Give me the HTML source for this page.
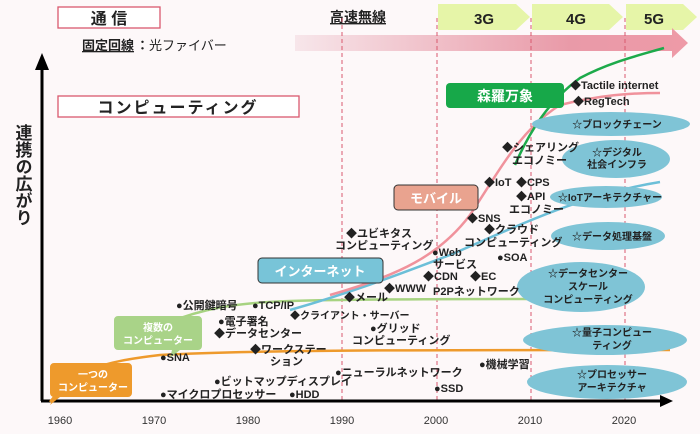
<!DOCTYPE html>
<html><head><meta charset="utf-8"><style>
body{margin:0;background:#fdf8f9;}
svg{display:block;font-family:"Liberation Sans","Noto Sans CJK JP",sans-serif;}
.t{font-size:11px;font-weight:bold;fill:#222;}
.s{font-size:10px;font-weight:bold;fill:#222;}
.w{fill:#fff;font-weight:bold;}
</style></head><body>
<svg width="700" height="434" viewBox="0 0 700 434">
<defs>
<linearGradient id="pg" x1="0" x2="1"><stop offset="0" stop-color="#f7e6ea"/><stop offset="0.7" stop-color="#e99aa8"/><stop offset="1" stop-color="#ee9aa7"/></linearGradient>
</defs>
<rect width="700" height="434" fill="#fdf8f9"/>
<polygon points="438,4 516,4 530,17 516,30 438,30" fill="#e6f5a8"/>
<polygon points="532,4 609,4 623,17 609,30 532,30" fill="#e6f5a8"/>
<polygon points="626,4 683,4 697,17 683,30 626,30" fill="#e6f5a8"/>
<text x="484" y="24" font-size="15" font-weight="bold" text-anchor="middle" fill="#222">3G</text>
<text x="576" y="24" font-size="15" font-weight="bold" text-anchor="middle" fill="#222">4G</text>
<text x="654" y="24" font-size="15" font-weight="bold" text-anchor="middle" fill="#222">5G</text>
<polygon points="295,35 672,35 672,28 688,43 672,58 672,51 295,51" fill="url(#pg)"/>
<rect x="58" y="7" width="102" height="21" fill="#fff" stroke="#d9596e" stroke-width="1.3"/>
<text x="109" y="24" font-size="16" font-weight="bold" text-anchor="middle" fill="#222">通 信</text>
<text x="82" y="50" font-size="13" font-weight="bold" fill="#222" text-decoration="underline">固定回線</text>
<text x="136" y="50" font-size="13" fill="#222"><tspan font-weight="bold">：</tspan>光ファイバー</text>
<text x="330" y="22" font-size="14" font-weight="bold" fill="#222" text-decoration="underline">高速無線</text>
<rect x="58" y="96" width="241" height="21" fill="#fff" stroke="#d9596e" stroke-width="1.3"/>
<text x="178" y="113" font-size="16" font-weight="bold" text-anchor="middle" fill="#222" letter-spacing="2">コンピューティング</text>
<g stroke="#d9596e" stroke-dasharray="4,3" stroke-width="1">
<line x1="342" y1="18" x2="342" y2="400"/><line x1="437" y1="18" x2="437" y2="400"/><line x1="531" y1="18" x2="531" y2="400"/><line x1="625" y1="18" x2="625" y2="400"/>
</g>
<line x1="42" y1="68" x2="42" y2="401" stroke="#000" stroke-width="3"/>
<polygon points="35,70 42,53 49,70" fill="#000"/>
<line x1="41" y1="401" x2="662" y2="401" stroke="#000" stroke-width="3"/>
<polygon points="660,395 673,401 660,407" fill="#000"/>
<text x="22" y="175" font-size="17" font-weight="bold" fill="#222" text-anchor="middle" writing-mode="tb">連携の広がり</text>
<g font-size="11" fill="#333" text-anchor="middle">
<text x="60" y="424">1960</text><text x="154" y="424">1970</text><text x="248" y="424">1980</text><text x="342" y="424">1990</text><text x="436" y="424">2000</text><text x="530" y="424">2010</text><text x="624" y="424">2020</text></g>
<g fill="none" stroke-width="2.5">
<path d="M50,402 C75,370 100,362 160,355 C250,350 400,350 670,350" stroke="#ee9a2c"/>
<path d="M170,322 C200,310 230,303 290,301 C360,299 450,299 530,299" stroke="#a7d381"/>
<path d="M290,310 C360,290 410,270 450,255 C520,225 580,195 660,182" stroke="#6cbfd8"/>
<path d="M330,295 C400,275 440,255 470,215 C500,170 520,130 560,105 C600,95 630,93 660,93" stroke="#f0929c"/>
<path d="M515,165 C530,130 550,100 580,78 C610,62 640,55 664,48" stroke="#1daa4b"/>
</g>
<g fill="#7fc4d6">
<ellipse cx="611" cy="124" rx="79" ry="12"/>
<ellipse cx="616" cy="159" rx="54" ry="19"/>
<ellipse cx="606" cy="197" rx="56" ry="11"/>
<ellipse cx="608" cy="236" rx="57" ry="14"/>
<ellipse cx="581" cy="287" rx="64" ry="25"/>
<ellipse cx="605" cy="340" rx="82" ry="15"/>
<ellipse cx="607" cy="382" rx="80" ry="17"/>
</g>
<g class="s" text-anchor="middle">
<text x="617" y="128">☆ブロックチェーン</text>
<text x="617" y="156">☆デジタル</text><text x="617" y="168">社会インフラ</text>
<text x="610" y="201">☆IoTアーキテクチャー</text>
<text x="612" y="240">☆データ処理基盤</text>
<text x="588" y="277">☆データセンター</text><text x="588" y="290">スケール</text><text x="588" y="303">コンピューティング</text>
<text x="612" y="336">☆量子コンピュー</text><text x="612" y="349">ティング</text>
<text x="612" y="378">☆プロセッサー</text><text x="612" y="391">アーキテクチャ</text>
</g>
<rect x="446" y="83" width="118" height="25" rx="4" fill="#17a849"/>
<text x="505" y="101" font-size="14" class="w" text-anchor="middle">森羅万象</text>
<rect x="394" y="185" width="84" height="25" rx="4" fill="#e9a38f" stroke="#333"/>
<text x="436" y="203" font-size="13" class="w" text-anchor="middle">モバイル</text>
<rect x="258" y="258" width="125" height="25" rx="4" fill="#78c4d8" stroke="#333"/>
<text x="320" y="276" font-size="13" class="w" text-anchor="middle">インターネット</text>
<path d="M118,316 h80 a4,4 0 0 1 4,4 v26 a4,4 0 0 1 -4,4 h-18 l-10,8 l2,-8 h-54 a4,4 0 0 1 -4,-4 v-26 a4,4 0 0 1 4,-4z" fill="#a9d388"/>
<text x="158" y="331" font-size="10" class="w" text-anchor="middle">複数の</text>
<text x="158" y="344" font-size="10" class="w" text-anchor="middle">コンピューター</text>
<path d="M58,363 h70 a4,4 0 0 1 4,4 v26 a4,4 0 0 1 -4,4 h-68 l-10,8 l4,-8 a4,4 0 0 1 -4,-4 v-26 a4,4 0 0 1 4,-4z" fill="#ee9a2c"/>
<text x="93" y="378" font-size="10" class="w" text-anchor="middle">一つの</text>
<text x="93" y="391" font-size="10" class="w" text-anchor="middle">コンピューター</text>
<g class="t">
<text x="570" y="89">◆Tactile internet</text>
<text x="573" y="105">◆RegTech</text>
<text x="502" y="151">◆シェアリング</text><text x="512" y="164">エコノミー</text>
<text x="484" y="186">◆IoT</text><text x="516" y="186">◆CPS</text>
<text x="516" y="200">◆API</text><text x="509" y="213">エコノミー</text>
<text x="467" y="222">◆SNS</text>
<text x="484" y="233">◆クラウド</text><text x="464" y="246">コンピューティング</text>
<text x="432" y="256">●Web</text><text x="433" y="268">サービス</text>
<text x="497" y="261">●SOA</text>
<text x="423" y="280">◆CDN</text><text x="470" y="280">◆EC</text>
<text x="433" y="295">P2Pネットワーク</text>
<text x="384" y="292">◆WWW</text>
<text x="344" y="301">◆メール</text>
<text x="346" y="237">◆ユビキタス</text><text x="335" y="249">コンピューティング</text>
<text x="176" y="309">●公開鍵暗号</text>
<text x="252" y="309">●TCP/IP</text>
<text x="218" y="325">●電子署名</text>
<text x="214" y="337">◆データセンター</text>
<text x="250" y="353">◆ワークステー</text><text x="270" y="365">ション</text>
<text x="160" y="361">●SNA</text>
<text x="214" y="385">●ビットマップディスプレイ</text>
<text x="160" y="398">●マイクロプロセッサー</text>
<text x="289" y="398">●HDD</text>
<text x="335" y="376">●ニューラルネットワーク</text>
<text x="479" y="368">●機械学習</text>
<text x="434" y="392">●SSD</text>
<text x="370" y="332">●グリッド</text><text x="352" y="344">コンピューティング</text>
</g>
<text x="290" y="319" class="s" font-size="9">◆クライアント・サーバー</text>
</svg>
</body></html>
